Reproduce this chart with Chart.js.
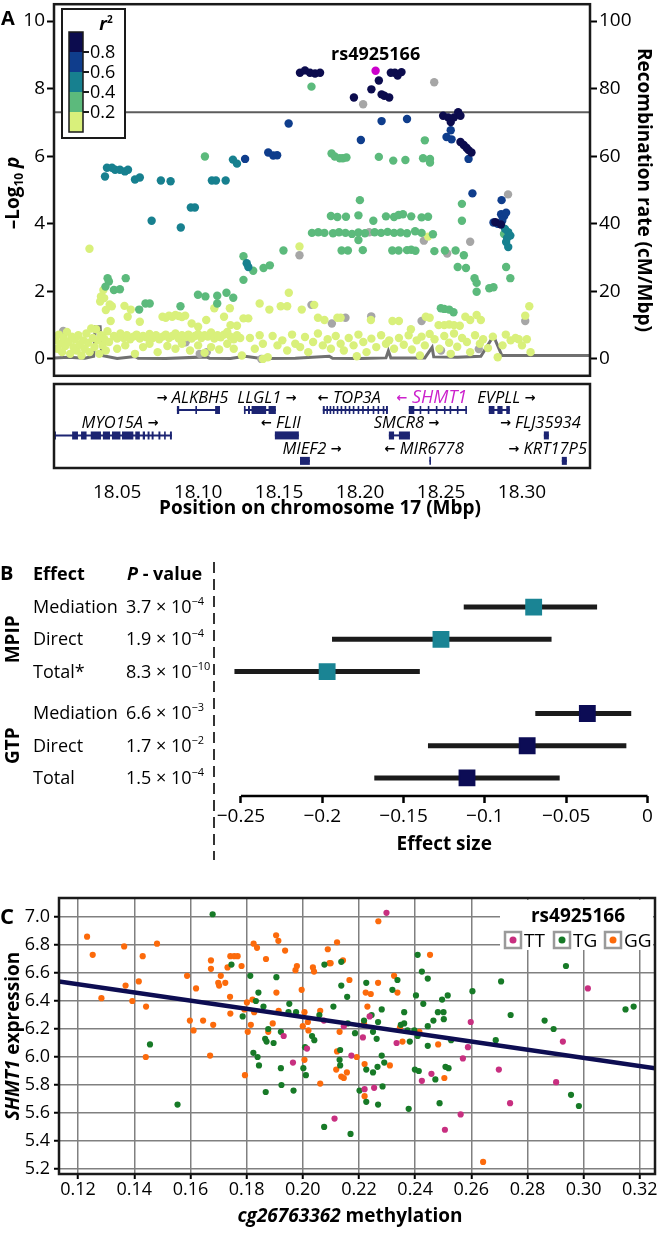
<!DOCTYPE html>
<html>
<head>
<meta charset="utf-8">
<script src="https://cdn.jsdelivr.net/npm/chart.js@4.4.1/dist/chart.umd.min.js"></script>
<style>
	html, body { margin: 0; padding: 0; background: #fff; }
	#wrap { position: relative; width: 660px; height: 1234px; overflow: hidden; background: #fff; }
	canvas { position: absolute; left: 0; }
</style>
</head>
<body>
<div id="wrap">
	<canvas id="cA" width="660" height="380" style="top:0;width:660px;height:380px"></canvas>
	<canvas id="cG" width="660" height="160" style="top:380px;width:660px;height:160px"></canvas>
	<canvas id="cB" width="660" height="325" style="top:540px;width:660px;height:325px"></canvas>
	<canvas id="cC" width="660" height="364" style="top:870px;width:660px;height:364px"></canvas>
</div>
<script>
// ---- panel A: regional association (position Mbp, -log10 p) ----
var posMin = 18.011, posMax = 18.342;
var sigLine = 7.3;
var leadSnp = [[18.2096, 8.53]];
var r2Navy = [[18.1629,8.47],[18.1660,8.54],[18.1691,8.47],[18.1722,8.45],[18.1753,8.47],
	[18.1962,7.74],[18.2070,7.98],[18.2116,8.24],[18.2133,7.83],[18.2150,7.79],[18.2180,7.74],
	[18.2190,8.47],[18.2215,8.47],[18.2232,8.39],[18.2256,8.49],
	[18.2513,7.20],[18.2544,7.15],[18.2560,7.01],[18.2580,7.15],[18.2606,7.30],[18.2620,7.20],
	[18.2620,6.42],[18.2640,6.33],[18.2657,6.25],[18.2670,6.18],[18.2688,6.11],
	[18.2835,4.05],[18.2870,3.98]];
var r2Blue = [[18.1290,5.92],[18.1433,6.11],[18.1464,6.02],[18.1488,6.03],[18.1559,6.97],
	[18.2005,6.48],[18.2133,7.04],[18.2290,7.10],[18.2534,6.57],[18.2560,6.77],[18.2565,6.50],[18.2670,5.92],
	[18.2694,4.90],[18.2874,4.70],[18.2824,4.04],[18.2850,4.00],[18.2871,4.28],[18.2890,4.23],[18.2902,4.33],[18.2878,4.09]];
var r2Teal = [[18.0425,5.40],[18.0437,5.66],[18.0468,5.66],[18.0487,5.60],[18.0517,5.60],[18.0548,5.55],[18.0567,5.60],
	[18.0610,5.31],[18.0640,5.37],[18.0770,5.28],[18.0830,5.26],[18.1085,5.28],[18.1110,5.28],[18.1170,5.28],[18.1215,5.90],[18.1240,5.78],
	[18.0713,4.09],[18.0893,3.89],[18.0955,4.48],[18.0980,4.48],[18.1300,2.83],[18.1310,2.72],
	[18.2915,3.75],[18.2928,3.65],[18.2902,3.46],[18.2915,3.31],[18.2908,3.58],[18.2895,3.85]];
var r2Green = [[18.1042,5.99],[18.1700,8.06],[18.2400,6.47],
	[18.1824,6.08],[18.1844,5.99],[18.1875,5.94],[18.1894,5.94],[18.1916,5.96],[18.2116,5.98],[18.2205,5.87],[18.2280,5.89],[18.2389,5.94],[18.2432,5.92],[18.2432,5.81],
	[18.1999,4.70],[18.2629,4.59],[18.2629,4.09],[18.2603,2.72],[18.2654,2.69],[18.2641,3.07],[18.2707,2.39],[18.2720,2.25],[18.2720,1.99],[18.2798,2.09],[18.2824,2.12],[18.2902,2.72],[18.2928,2.39],[18.2889,3.70],
	[18.1703,3.73],[18.1742,3.75],[18.1780,3.73],[18.1833,3.72],[18.1870,3.75],[18.1910,3.73],[18.1950,3.70],[18.1990,3.74],[18.2030,3.72],[18.2090,3.75],[18.2130,3.73],[18.2170,3.76],[18.2210,3.73],[18.2250,3.74],[18.2290,3.72],[18.2340,3.78],[18.2380,3.73],[18.1990,3.52],[18.2450,3.69],
	[18.1820,4.23],[18.1860,4.20],[18.1913,4.21],[18.1990,4.25],[18.2082,4.09],[18.2160,4.22],[18.2210,4.20],[18.2238,4.26],[18.2265,4.28],[18.2316,4.22],[18.2380,4.19],[18.2420,4.21],
	[18.1886,3.21],[18.1925,3.21],[18.2017,3.22],[18.2199,3.21],[18.2238,3.21],[18.2290,3.22],[18.2316,3.23],[18.2342,3.20],[18.2459,3.19],[18.2524,3.21],[18.2590,3.21],
	[18.0441,2.39],[18.0449,2.29],[18.0428,2.14],[18.0480,2.04],[18.0517,2.06],[18.0553,2.39],[18.0636,1.46],[18.0675,1.64],[18.0701,1.64],[18.0891,1.56],[18.0999,1.90],[18.1045,1.85],
	[18.1118,1.87],[18.1118,1.64],[18.1175,1.96],[18.1217,1.81],[18.1280,3.04],[18.1280,2.34],[18.1340,2.61],[18.1404,2.69],[18.1443,2.77],[18.1527,3.21],
	[18.2499,1.50],[18.2520,1.48],[18.2550,1.46],[18.2577,1.38]];
var r2Yellow = [[18.012,0.55],[18.013,0.30],[18.014,0.72],[18.015,0.45],[18.016,0.20],[18.017,0.62],[18.018,0.38],[18.019,0.80],[18.020,0.50],[18.021,0.15],[18.022,0.66],[18.023,0.35],[18.024,0.58],[18.025,0.25],[18.026,0.70],[18.027,0.42],[18.028,0.10],[18.029,0.55],[18.030,0.30],[18.031,0.75],[18.032,0.48],[18.033,0.20],[18.034,0.90],[18.035,0.62],[18.036,0.35],[18.037,0.88],[18.038,0.55],[18.039,0.15],[18.040,0.70],[18.041,0.40],[18.042,0.60],[18.043,0.25],[18.044,0.82],[18.045,0.50],
	[18.0329,3.26],[18.0415,2.04],[18.0400,1.85],[18.0420,1.80],[18.0454,1.61],[18.0467,1.56],[18.0545,1.57],[18.0584,1.46],[18.0460,1.12],[18.0565,1.25],[18.0395,1.70],[18.0430,1.45],
	[18.048,0.68],[18.050,0.60],[18.052,0.75],[18.054,0.62],[18.056,0.70],[18.058,0.58],[18.060,0.66],[18.062,0.72],[18.064,0.60],[18.066,0.68],[18.068,0.64],[18.070,0.74],[18.072,0.62],[18.074,0.70],[18.076,0.58],[18.078,0.66],[18.080,0.72],[18.082,0.62],[18.084,0.68],[18.086,0.75],[18.088,0.60],[18.090,0.70],[18.092,0.64],[18.094,0.72],[18.096,0.60],[18.098,0.68],[18.100,0.74],[18.102,0.62],[18.104,0.70],[18.106,0.66],[18.108,0.78],[18.110,0.60],[18.112,0.70],[18.114,0.64],[18.116,0.72],[18.118,0.80],[18.120,0.66],[18.122,0.58],[18.124,0.70],[18.126,0.62],
	[18.050,0.30],[18.055,0.40],[18.061,0.15],[18.066,0.35],[18.070,0.45],[18.075,0.20],[18.081,0.38],[18.086,0.30],[18.090,0.45],[18.095,0.25],[18.100,0.40],[18.104,0.18],[18.108,0.35],[18.113,0.28],[18.118,0.45],[18.122,0.30],[18.127,0.10],
	[18.064,1.10],[18.078,1.25],[18.080,1.22],[18.082,1.28],[18.084,1.25],[18.086,1.30],[18.088,1.27],[18.090,1.24],[18.092,1.28],[18.096,1.05],[18.100,0.95],[18.105,1.15],[18.110,1.50],[18.116,1.25],[18.120,1.00],[18.124,0.98],[18.128,1.20],[18.1196,1.50],
	[18.138,1.64],[18.131,1.20],[18.144,1.46],[18.151,1.56],[18.155,1.56],[18.156,1.96],[18.164,1.46],[18.1717,1.60],[18.174,1.22],[18.178,1.15],[18.186,1.22],[18.188,1.22],[18.2067,1.15],[18.220,1.12],[18.224,1.12],[18.2314,0.88],[18.2406,1.25],[18.243,1.22],[18.2485,1.00],[18.252,1.00],[18.255,1.02],[18.258,1.00],[18.2616,0.98],[18.265,1.25],[18.268,1.15],[18.272,1.30],[18.2746,1.15],[18.298,0.58],[18.3045,1.56],[18.302,1.28],[18.3053,0.20],[18.1626,3.33],[18.242,3.62],
	[18.132,0.62],[18.135,0.30],[18.138,0.70],[18.140,0.45],[18.143,0.05],[18.146,0.68],[18.149,0.40],[18.152,0.55],[18.155,0.25],[18.158,0.72],[18.160,0.45],[18.163,0.35],[18.166,0.65],[18.168,0.20],[18.171,0.50],[18.174,0.75],[18.177,0.40],[18.180,0.58],[18.182,0.30],[18.185,0.68],[18.188,0.45],[18.190,0.25],[18.193,0.62],[18.196,0.40],[18.199,0.72],[18.202,0.50],[18.204,0.20],[18.207,0.60],[18.210,0.35],[18.213,0.70],[18.216,0.45],[18.218,0.55],[18.221,0.30],[18.224,0.62],[18.227,0.42],[18.230,0.70],[18.232,0.28],[18.235,0.55],[18.238,0.66],[18.240,0.40],[18.243,0.74],[18.246,0.58],[18.249,0.30],[18.252,0.68],[18.255,0.48],[18.258,0.75],[18.260,0.36],[18.263,0.62],[18.266,0.50],[18.268,0.20],[18.271,0.70],[18.274,0.45],[18.276,0.58],[18.279,0.32],[18.282,0.66],[18.285,0.05],[18.288,0.40],[18.290,0.72],[18.293,0.55],[18.296,0.62],[18.300,0.40],[18.303,0.58],
	[18.140,0.00],[18.198,0.08],[18.237,0.10],[18.256,0.15]];
var r2Missing = [[18.2019,7.54],[18.2458,8.19],[18.2914,4.87],[18.2056,3.75],[18.1626,3.07],[18.2680,3.47],[18.2394,3.50],[18.2538,3.12],[18.1700,1.60],[18.1826,1.05],[18.1910,1.22],[18.2069,1.26],[18.2380,1.12],[18.3020,1.12],[18.1390,0.00],[18.1053,0.20],[18.0923,0.49],[18.2733,0.29],[18.0167,0.83],[18.2500,0.25],[18.1010,0.15]];
var recombPos = [18.011,18.020,18.030,18.0355,18.0365,18.0395,18.0405,18.050,18.061,18.063,18.080,18.105,18.107,18.120,18.129,18.139,18.160,18.181,18.183,18.200,18.216,18.2175,18.219,18.240,18.2445,18.2455,18.260,18.2746,18.2824,18.2876,18.290,18.342];
var recombRate = [0.3,0.5,0.2,0.8,9.5,9.5,1.0,0.1,0.7,0.2,0.1,0.6,0.2,0.1,0.8,0.1,0.2,0.8,0.2,0.1,0.3,2.4,0.3,0.3,3.4,0.6,0.5,0.8,6.8,1.0,1.0,1.0];
var r2Ticks = ['0.8', '0.6', '0.4', '0.2'];

// ---- gene track ----
var geneLabels = ['MYO15A \u2192', '\u2192 ALKBH5', 'LLGL1 \u2192', '\u2190 FLII', 'MIEF2 \u2192', '\u2190 TOP3A', 'SMCR8 \u2192', '\u2190 SHMT1', '\u2190 MIR6778', 'EVPLL \u2192', '\u2192 FLJ35934', '\u2192 KRT17P5'];
var geneStart = [18.0110, 18.0869, 18.1283, 18.1474, 18.1629, 18.1770, 18.2178, 18.2301, 18.2428, 18.2795, 18.3135, 18.3246];
var geneEnd   = [18.0838, 18.1135, 18.1480, 18.1622, 18.1690, 18.2172, 18.2308, 18.2660, 18.2438, 18.2925, 18.3166, 18.3277];
var geneRow   = [2, 1, 1, 2, 3, 1, 2, 1, 3, 1, 2, 3];
var geneExons = [
	[[18.0110,18.0122],[18.0222,18.0258],[18.0277,18.0311],[18.0337,18.0400],[18.0412,18.0456],[18.0468,18.0520],[18.0530,18.0600],[18.0612,18.0640],[18.0658,18.0672],[18.0688,18.0700],[18.0713,18.0725],[18.0755,18.0767],[18.0790,18.0800],[18.0826,18.0838]],
	[[18.0869,18.0883],[18.0983,18.0993],[18.1105,18.1135]],
	[[18.1283,18.1293],[18.1308,18.1320],[18.1330,18.1420],[18.1435,18.1480]],
	[[18.1474,18.1622]],
	[[18.1629,18.1690]],
	[[18.1770,18.1782],[18.1792,18.1802],[18.1812,18.1822],[18.1832,18.1842],[18.1856,18.1866],[18.1880,18.1890],[18.1905,18.1915],[18.1930,18.1940],[18.1955,18.1965],[18.1985,18.1995],[18.2013,18.2023],[18.2045,18.2055],[18.2078,18.2088],[18.2108,18.2118],[18.2140,18.2150],[18.2160,18.2172]],
	[[18.2178,18.2210],[18.2240,18.2308]],
	[[18.2301,18.2335],[18.2368,18.2378],[18.2418,18.2428],[18.2468,18.2478],[18.2518,18.2528],[18.2553,18.2563],[18.2598,18.2608],[18.2650,18.2660]],
	[[18.2428,18.2438]],
	[[18.2795,18.2830],[18.2848,18.2880],[18.2903,18.2925]],
	[[18.3135,18.3166]],
	[[18.3246,18.3277]]
];
var highlightGene = '\u2190 SHMT1';

// ---- panel B: mediation effects ----
var effectNames = ['Mediation', 'Direct', 'Total*', 'Mediation', 'Direct', 'Total'];
var cohorts = ['MPIP', 'MPIP', 'MPIP', 'GTP', 'GTP', 'GTP'];
var pMantissa = ['3.7', '1.9', '8.3', '6.6', '1.7', '1.5'];
var pExponent = ['\u22124', '\u22124', '\u221210', '\u22123', '\u22122', '\u22124'];
var effectEst = [-0.070, -0.127, -0.197, -0.037, -0.074, -0.111];
var effectLow = [-0.113, -0.194, -0.254, -0.069, -0.135, -0.168];
var effectHigh = [-0.031, -0.059, -0.140, -0.010, -0.013, -0.054];

// ---- panel C: methylation vs expression by genotype ----
var genotypes = ['TT', 'TG', 'GG'];
var ggPts = [[0.1232,6.86],[0.1252,6.73],[0.1283,6.42],[0.1364,6.79],[0.1369,6.51],[0.1393,6.40],[0.1416,6.54],[0.1430,6.72],[0.1442,6.36],[0.1481,6.81],[0.1441,6.00],[0.1588,6.58],[0.1620,6.49],[0.1598,6.26],[0.1611,6.19],[0.1645,6.26],
	[0.1673,6.69],[0.1673,6.63],[0.1708,6.58],[0.1699,6.53],[0.1702,6.51],[0.1724,6.53],[0.1742,6.72],[0.1756,6.72],[0.1768,6.72],[0.1732,6.64],[0.1782,6.65],[0.1741,6.43],[0.1742,6.31],[0.1681,6.23],[0.1670,6.01],
	[0.1825,6.81],[0.1837,6.78],[0.1869,6.70],[0.1905,6.87],[0.1913,6.83],[0.1937,6.76],[0.1906,6.46],[0.1821,6.41],[0.1801,6.39],[0.1792,6.34],[0.1827,6.32],[0.1815,6.23],[0.1804,6.18],[0.1914,6.33],[0.1893,6.24],[0.1877,6.18],[0.1794,5.87],
	[0.1974,6.62],[0.1979,6.65],[0.1996,6.48],[0.2006,6.32],[0.2000,6.22],[0.2018,6.25],[0.2020,6.19],[0.2006,5.98],[0.2036,6.64],[0.2040,6.61],[0.2062,6.33],[0.2062,5.81],[0.2089,6.77],[0.2095,6.67],[0.2099,6.67],[0.2122,6.82],[0.2143,6.69],[0.2166,6.55],[0.2131,6.18],[0.2122,6.04],[0.2119,5.91],[0.2137,5.86],[0.2146,5.85],[0.2157,5.89],
	[0.2269,6.97],[0.2453,6.73],[0.2325,6.58],[0.2268,6.53],[0.2224,6.46],[0.2242,6.45],[0.2337,6.46],[0.2230,6.36],[0.2218,6.24],[0.2346,6.21],[0.2415,6.18],[0.2355,6.11],[0.2482,6.09],[0.2192,6.00],[0.2310,5.94],[0.2220,5.95],[0.2504,5.85],[0.2220,5.72],[0.2642,5.25]];
var tgPts = [[0.1456,6.09],[0.1554,5.66],
	[0.1679,7.02],[0.1746,6.66],[0.1813,6.58],[0.1906,6.57],[0.1842,6.46],[0.1833,6.40],[0.1860,6.36],[0.1786,6.29],[0.1952,6.38],[0.1949,6.32],[0.1976,6.32],[0.1877,6.20],[0.1922,6.18],[0.1866,6.13],[0.1871,6.11],[0.1896,6.10],[0.1824,6.03],[0.1839,6.00],[0.1844,5.94],[0.1922,5.92],[0.1924,5.80],[0.1868,5.75],[0.1967,5.76],
	[0.2033,6.15],[0.2041,6.12],[0.2008,6.07],[0.2002,5.92],[0.2011,5.87],[0.2059,6.30],[0.2077,6.66],[0.2137,6.68],[0.2137,6.51],[0.2158,6.43],[0.2109,6.36],[0.2160,6.24],[0.2133,6.05],[0.2131,5.98],[0.2133,5.94],[0.2076,5.50],[0.2170,5.45],
	[0.2409,6.73],[0.2337,6.55],[0.2424,6.61],[0.2445,6.56],[0.2226,6.53],[0.2319,6.48],[0.2403,6.44],[0.2429,6.38],[0.2496,6.41],[0.2516,6.44],[0.2604,6.47],[0.2281,6.34],[0.2245,6.30],[0.2361,6.32],[0.2481,6.32],[0.2501,6.32],
	[0.2218,6.26],[0.2268,6.25],[0.2349,6.23],[0.2361,6.24],[0.2373,6.19],[0.2465,6.26],[0.2445,6.22],[0.2502,6.27],[0.2186,6.17],[0.2250,6.18],[0.2263,6.13],[0.2397,6.19],[0.2381,6.11],[0.2409,6.15],[0.2445,6.08],[0.2528,6.12],[0.2687,6.12],
	[0.2281,6.01],[0.2290,5.96],[0.2226,5.91],[0.2250,5.89],[0.2266,5.93],[0.2399,5.91],[0.2413,5.90],[0.2472,5.84],[0.2508,5.93],[0.2519,5.92],[0.2202,5.76],[0.2226,5.68],[0.2284,5.79],[0.2268,5.66],[0.2377,5.63],[0.2487,5.67],
	[0.2706,6.54],[0.2937,6.65],[0.2740,6.30],[0.2861,6.26],[0.2893,6.20],[0.3149,6.34],[0.3178,6.36],[0.2955,5.73],[0.2983,5.65]];
var ttPts = [[0.1932,6.15],[0.1965,5.96],[0.2015,6.06],[0.2075,6.26],[0.2146,6.22],[0.2173,6.01],[0.2113,5.56],[0.2298,7.03],[0.2238,6.29],[0.2598,6.25],[0.2214,6.14],[0.2334,6.10],[0.2588,6.07],[0.2570,5.99],[0.2458,5.88],[0.2424,5.83],[0.2220,5.77],[0.2254,5.78],[0.2562,5.59],[0.2506,5.48],[0.3015,6.49],[0.2926,6.11],[0.2698,5.91],[0.2902,5.82],[0.2738,5.67]];
var fitIntercept = 6.87, fitSlope = -2.92;
var methMin = 0.1132, methMax = 0.3254, exprMin = 5.164, exprMax = 7.136;

!(function(){
	'use strict';
	var F = "'Open Sans', 'DejaVu Sans', sans-serif";
	Chart.defaults.font.family = F;
	Chart.defaults.color = '#000';
	Chart.defaults.animation = false;
	Chart.defaults.responsive = false;
	Chart.defaults.plugins.legend.display = false;
	Chart.defaults.plugins.tooltip.enabled = false;

	var r2Colors = ['#0c0c4e', '#0f3d8c', '#17808f', '#5cba7c', '#d9f07b'];
	var gtColors = { TT: '#c82f80', TG: '#177a27', GG: '#fc6a0b' };
	var cohortColors = { MPIP: '#1a8494', GTP: '#0c0c55' };
	var navyGene = '#1c2472';
	var ARROWS = '\u2190\u2192';

	function pts(arr){ return arr.map(function(p){ return { x: p[0], y: p[1] }; }); }
	function fixSize(dim, val){
		return function(s){
			s[dim] = val;
			s.paddingTop = 0; s.paddingBottom = 0; s.paddingLeft = 0; s.paddingRight = 0;
		};
	}
	function rich(ctx, parts, x, y, align){
		var w = 0;
		parts.forEach(function(p){ ctx.font = p.f; w += ctx.measureText(p.t).width; });
		var cx = align === 'center' ? x - w / 2 : (align === 'right' ? x - w : x);
		ctx.textAlign = 'left';
		ctx.textBaseline = 'alphabetic';
		parts.forEach(function(p){
			ctx.font = p.f;
			ctx.fillStyle = p.c || '#000';
			ctx.fillText(p.t, cx, y + (p.dy || 0));
			cx += ctx.measureText(p.t).width;
		});
		return w;
	}
	function richWidth(ctx, parts){
		var w = 0;
		parts.forEach(function(p){ ctx.font = p.f; w += ctx.measureText(p.t).width; });
		return w;
	}
	function rotated(ctx, parts, x, y, angle){
		ctx.save();
		ctx.translate(x, y);
		ctx.rotate(angle);
		rich(ctx, parts, 0, 0, 'center');
		ctx.restore();
	}
	function box(ctx, ca, w){
		ctx.lineWidth = w;
		ctx.strokeStyle = '#1a1a1a';
		ctx.strokeRect(ca.left, ca.top, ca.right - ca.left, ca.bottom - ca.top);
	}
	function dots(arr, color, order, r){
		return { data: pts(arr), backgroundColor: color, borderWidth: 0, pointRadius: r, order: order };
	}

	// ---------- Panel A ----------
	var plugA = {
		id: 'plugA',
		afterDraw: function(chart){
			var ctx = chart.ctx, ca = chart.chartArea, sx = chart.scales.x, sy = chart.scales.y;
			ctx.save();
			box(ctx, ca, 2.5);
			rich(ctx, [{ t: 'A', f: 'bold 20px ' + F }], 1, 25, 'left');
			rotated(ctx, [
				{ t: '\u2013Log', f: 'bold 19px ' + F },
				{ t: '10', f: 'bold 12px ' + F, dy: 4 },
				{ t: ' p', f: 'italic bold 19px ' + F }
			], 19, 193, -Math.PI / 2);
			rotated(ctx, [{ t: 'Recombination rate (cM/Mbp)', f: 'bold 19px ' + F }], 638, 190, Math.PI / 2);
			rich(ctx, [{ t: 'rs4925166', f: 'bold 18px ' + F }], sx.getPixelForValue(leadSnp[0][0]), sy.getPixelForValue(leadSnp[0][1]) - 11, 'center');

			// r2 colour key
			ctx.fillStyle = '#fff';
			ctx.fillRect(62, 9, 63, 129);
			ctx.lineWidth = 2;
			ctx.strokeStyle = '#1a1a1a';
			ctx.strokeRect(62, 9, 63, 129);
			rich(ctx, [{ t: 'r', f: 'italic bold 18px ' + F }, { t: '2', f: 'bold 10px ' + F, dy: -7 }], 106, 30, 'center');
			r2Colors.forEach(function(c, i){
				ctx.fillStyle = c;
				ctx.fillRect(69, 32 + i * 20, 14, 20);
			});
			ctx.lineWidth = 1.5;
			ctx.strokeRect(69, 32, 14, 100);
			ctx.lineWidth = 2;
			r2Ticks.forEach(function(t, i){
				var y = 52 + i * 20;
				ctx.beginPath(); ctx.moveTo(83, y); ctx.lineTo(89, y); ctx.stroke();
				rich(ctx, [{ t: t, f: '18px ' + F }], 90, y + 6, 'left');
			});
			ctx.restore();
		}
	};

	var recombData = recombPos.map(function(p, i){ return { x: p, y: recombRate[i] }; });
	var tickGrid = { drawOnChartArea: false, tickLength: 7, tickWidth: 2, tickColor: '#000' };

	new Chart(document.getElementById('cA'), {
		type: 'scatter',
		data: { datasets: [
			dots(leadSnp, '#cc00cc', 0, 4.2),
			dots(r2Navy, r2Colors[0], 1, 4.2),
			dots(r2Blue, r2Colors[1], 2, 4.2),
			dots(r2Teal, r2Colors[2], 3, 4.2),
			dots(r2Green, r2Colors[3], 4, 4.2),
			dots(r2Yellow, r2Colors[4], 5, 4.2),
			dots(r2Missing, '#a6a6a6', 6, 4.2),
			{ type: 'line', data: recombData, yAxisID: 'y2', borderColor: '#707070', borderWidth: 3, pointRadius: 0, order: 10 },
			{ type: 'line', data: [{ x: posMin, y: sigLine }, { x: posMax, y: sigLine }], borderColor: '#5c5c5c', borderWidth: 2, pointRadius: 0, order: 11 }
		] },
		options: {
			layout: { padding: { top: 1, bottom: 3 } },
			scales: {
				x: { type: 'linear', min: posMin, max: posMax, display: false },
				y: { position: 'left', min: -0.5, max: 10.5, ticks: { stepSize: 2, includeBounds: false, padding: 2, font: { size: 19 } },
					grid: tickGrid, border: { display: false }, afterFit: fixSize('width', 54) },
				y2: { position: 'right', min: -5, max: 105, ticks: { stepSize: 20, includeBounds: false, padding: 2, font: { size: 19 } },
					grid: tickGrid, border: { display: false }, afterFit: fixSize('width', 70) }
			}
		},
		plugins: [plugA]
	});

	// ---------- Gene track ----------
	var geneSets = [];
	geneStart.forEach(function(s, i){
		geneSets.push({ type: 'line', data: [{ x: s, y: geneRow[i] }, { x: geneEnd[i], y: geneRow[i] }],
			borderColor: navyGene, borderWidth: 2, pointRadius: 0 });
		var ex = [];
		geneExons[i].forEach(function(e){
			ex.push({ x: e[0], y: geneRow[i] }, { x: e[1], y: geneRow[i] }, { x: e[1], y: null });
		});
		geneSets.push({ type: 'line', data: ex, borderColor: navyGene, borderWidth: 8, borderCapStyle: 'butt', pointRadius: 0, spanGaps: false });
	});

	var plugG = {
		id: 'plugG',
		afterDraw: function(chart){
			var ctx = chart.ctx, ca = chart.chartArea, sx = chart.scales.x, sy = chart.scales.y;
			ctx.save();
			box(ctx, ca, 2.5);
			geneLabels.forEach(function(lab, i){
				var hi = lab === highlightGene;
				var col = hi ? '#cc22cc' : '#000';
				var nf = (hi ? 'italic 18px ' : 'italic 16.5px ') + F;
				var af = 'bold 13px ' + F;
				var lead = ARROWS.indexOf(lab.charAt(0)) >= 0;
				var parts = lead ?
					[{ t: lab.charAt(0), f: af, c: col, dy: -1 }, { t: ' ' + lab.slice(2), f: nf, c: col }] :
					[{ t: lab.slice(0, -2) + ' ', f: nf, c: col }, { t: lab.slice(-1), f: af, c: col, dy: -1 }];
				var w = richWidth(ctx, parts);
				var cx = (sx.getPixelForValue(geneStart[i]) + sx.getPixelForValue(geneEnd[i])) / 2 + (lead ? -6 : 7);
				cx = Math.min(Math.max(cx, ca.left + w / 2 + 3), ca.right - w / 2 - 3);
				rich(ctx, parts, cx, sy.getPixelForValue(geneRow[i]) - 7, 'center');
			});
			rich(ctx, [{ t: 'Position on chromosome 17 (Mbp)', f: 'bold 19px ' + F }], 320, 134, 'center');
			ctx.restore();
		}
	};

	new Chart(document.getElementById('cG'), {
		type: 'scatter',
		data: { datasets: geneSets },
		options: {
			layout: { padding: { left: 54, right: 70, top: 4 } },
			scales: {
				x: { type: 'linear', min: posMin, max: posMax,
					ticks: { stepSize: 0.05, includeBounds: false, padding: 5, maxRotation: 0, autoSkip: false, font: { size: 19 },
						callback: function(v){ return v.toFixed(2); } },
					grid: { display: false }, border: { display: false }, afterFit: fixSize('height', 72) },
				y: { display: false, min: -0.02, max: 3.28, reverse: true }
			}
		},
		plugins: [plugG]
	});

	// ---------- Panel B ----------
	var rowY = cohorts.map(function(c, i){ return i + 1 + (c === 'GTP' ? 0.3 : 0); });
	var ciSets = effectEst.map(function(e, i){
		return { type: 'line', data: [{ x: effectLow[i], y: rowY[i] }, { x: effectHigh[i], y: rowY[i] }],
			borderColor: '#1b1b1b', borderWidth: 5, borderCapStyle: 'butt', pointRadius: 0, order: 2 };
	});
	var estSet = {
		data: effectEst.map(function(e, i){ return { x: e, y: rowY[i] }; }),
		backgroundColor: cohorts.map(function(c){ return cohortColors[c]; }),
		borderColor: cohorts.map(function(c){ return cohortColors[c]; }),
		borderWidth: 2, borderJoinStyle: 'round', pointStyle: 'rect', pointRadius: 10.5, order: 0
	};

	var plugB = {
		id: 'plugB',
		afterDraw: function(chart){
			var ctx = chart.ctx, ca = chart.chartArea, sx = chart.scales.x, sy = chart.scales.y;
			ctx.save();
			rich(ctx, [{ t: 'B', f: 'bold 20px ' + F }], 0, 40, 'left');
			rich(ctx, [{ t: 'Effect', f: 'bold 18px ' + F }], 33, 40, 'left');
			rich(ctx, [{ t: 'P', f: 'italic bold 18px ' + F }, { t: ' - value', f: 'bold 18px ' + F }], 127, 40, 'left');
			effectNames.forEach(function(n, i){
				var y = sy.getPixelForValue(rowY[i]) + 6;
				rich(ctx, [{ t: n, f: '18px ' + F }], 33, y, 'left');
				rich(ctx, [{ t: pMantissa[i] + ' \u00d7 10', f: '18px ' + F }, { t: pExponent[i], f: '11px ' + F, dy: -8 }], 126, y, 'left');
			});
			['MPIP', 'GTP'].forEach(function(c){
				var idx = [];
				cohorts.forEach(function(k, i){ if (k === c) idx.push(i); });
				var mid = (sy.getPixelForValue(rowY[idx[0]]) + sy.getPixelForValue(rowY[idx[idx.length - 1]])) / 2;
				rotated(ctx, [{ t: c, f: 'bold 19px ' + F }], 19, mid, -Math.PI / 2);
			});
			ctx.strokeStyle = '#333';
			ctx.lineWidth = 2;
			ctx.setLineDash([11, 6]);
			ctx.beginPath(); ctx.moveTo(214, 22); ctx.lineTo(214, 320); ctx.stroke();
			ctx.setLineDash([]);
			ctx.strokeStyle = '#000';
			ctx.lineWidth = 2.5;
			ctx.beginPath(); ctx.moveTo(sx.getPixelForValue(-0.25), ca.bottom); ctx.lineTo(sx.getPixelForValue(0), ca.bottom); ctx.stroke();
			rich(ctx, [{ t: 'Effect size', f: 'bold 19px ' + F }], (sx.getPixelForValue(-0.25) + sx.getPixelForValue(0)) / 2, 310, 'center');
			ctx.restore();
		}
	};

	new Chart(document.getElementById('cB'), {
		type: 'scatter',
		data: { datasets: [estSet].concat(ciSets) },
		options: {
			layout: { padding: { left: 219, right: 9, top: 20 } },
			scales: {
				x: { type: 'linear', min: -0.2635, max: 0,
					ticks: { stepSize: 0.05, includeBounds: false, padding: 2, maxRotation: 0, autoSkip: false, font: { size: 19 },
						callback: function(v){
							var a = Math.abs(Math.round(v * 100) / 100);
							return a === 0 ? '0' : '\u2212' + String(a);
						} },
					grid: { drawOnChartArea: false, tickLength: 7, tickWidth: 2.5, tickColor: '#000' },
					border: { display: false }, afterFit: fixSize('height', 69) },
				y: { type: 'linear', display: false, min: -0.46, max: 6.86, reverse: true }
			}
		},
		plugins: [plugB]
	});

	// ---------- Panel C ----------
	var plugC = {
		id: 'plugC',
		afterDraw: function(chart){
			var ctx = chart.ctx, ca = chart.chartArea;
			ctx.save();
			box(ctx, ca, 2.5);
			rich(ctx, [{ t: 'C', f: 'bold 22px ' + F }], 0, 54, 'left');
			rotated(ctx, [{ t: 'SHMT1', f: 'italic bold 19px ' + F }, { t: ' expression', f: 'bold 19px ' + F }], 19, 166, -Math.PI / 2);
			rich(ctx, [{ t: 'cg26763362', f: 'italic bold 19px ' + F }, { t: ' methylation', f: 'bold 19px ' + F }], 350, 352, 'center');
			// genotype key
			ctx.fillStyle = '#fff';
			ctx.fillRect(500, ca.top + 2, ca.right - 502, 50);
			rich(ctx, [{ t: 'rs4925166', f: 'bold 19px ' + F }], 578, 52, 'center');
			var bx = [505, 554, 605];
			genotypes.forEach(function(g, i){
				ctx.lineWidth = 2.5;
				ctx.strokeStyle = '#9a9a9a';
				ctx.strokeRect(bx[i], 62, 16, 16);
				ctx.fillStyle = gtColors[g];
				ctx.beginPath(); ctx.arc(bx[i] + 8, 70, 3.5, 0, Math.PI * 2); ctx.fill();
				rich(ctx, [{ t: g, f: '19px ' + F }], bx[i] + 19, 77, 'left');
			});
			ctx.restore();
		}
	};
	var gridC = { color: '#808080', lineWidth: 1.5, tickLength: 5, tickWidth: 2, tickColor: '#000' };

	new Chart(document.getElementById('cC'), {
		type: 'scatter',
		data: { datasets: [
			{ type: 'line', data: [{ x: methMin, y: fitIntercept + fitSlope * methMin }, { x: methMax, y: fitIntercept + fitSlope * methMax }],
				borderColor: '#0d0d52', borderWidth: 4.5, pointRadius: 0, order: 0 },
			dots(ttPts, gtColors.TT, 1, 3.1),
			dots(tgPts, gtColors.TG, 2, 3.1),
			dots(ggPts, gtColors.GG, 3, 3.1)
		] },
		options: {
			layout: { padding: { top: 28, right: 5 } },
			scales: {
				x: { type: 'linear', min: methMin, max: methMax,
					ticks: { stepSize: 0.02, includeBounds: false, padding: 0, maxRotation: 0, autoSkip: false, font: { size: 18 },
						callback: function(v){ return v.toFixed(2); } },
					grid: gridC, border: { display: false }, afterFit: fixSize('height', 60) },
				y: { min: exprMin, max: exprMax,
					ticks: { stepSize: 0.2, includeBounds: false, padding: 4, font: { size: 18 },
						callback: function(v){ return v.toFixed(1); } },
					grid: gridC, border: { display: false }, afterFit: fixSize('width', 59) }
			}
		},
		plugins: [plugC]
	});
})();
</script>
</body>
</html>
